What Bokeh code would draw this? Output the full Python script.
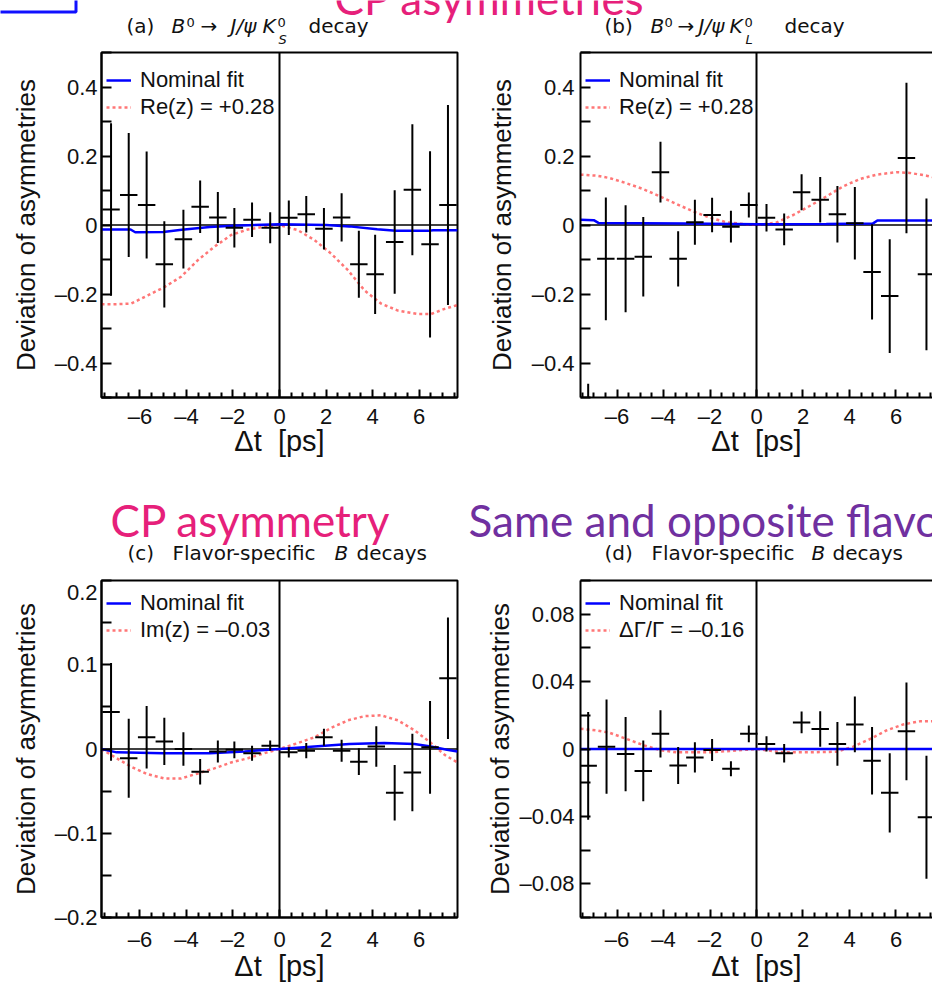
from bokeh.plotting import figure
from bokeh.models import (ColumnDataSource, Range1d, FixedTicker, CustomJSTickFormatter,
                          Span, Legend, LegendItem, LinearAxis)
from bokeh.core.properties import value
from bokeh.layouts import row, column
from bokeh.embed import file_html
from bokeh.resources import INLINE

# ---------------- data ----------------
BIN_HALF = 0.375

X_MAJOR = [-6, -4, -2, 0, 2, 4, 6]
X_MINOR = [-7.5, -7.0, -6.5, -5.5, -5.0, -4.5, -3.5, -3.0, -2.5, -1.5, -1.0, -0.5,
           0.5, 1.0, 1.5, 2.5, 3.0, 3.5, 4.5, 5.0, 5.5, 6.5, 7.0, 7.5]
Y_TICKS_AB = [-0.5, -0.4, -0.3, -0.2, -0.1, 0.0, 0.1, 0.2, 0.3, 0.4, 0.5]
Y_TICKS_C = [-0.2, -0.15, -0.1, -0.05, 0.0, 0.05, 0.1, 0.15, 0.2]
Y_TICKS_D = [-0.1, -0.08, -0.06, -0.04, -0.02, 0.0, 0.02, 0.04, 0.06, 0.08, 0.1]

X_LABEL = "\u0394t\u00a0 [ps]"
Y_LABEL = "Deviation of asymmetries"
LEGEND_NOMINAL = "Nominal fit"
LEGEND_RED = ["Re(z) = +0.28", "Re(z) = +0.28", "Im(z) = \u20130.03", "\u0394\u0393/\u0393 = \u20130.16"]

# (a) B0 -> J/psi KS
a_dt = [-7.24, -6.48, -5.71, -4.95, -4.13, -3.41, -2.65, -1.94, -1.18, -0.40,
        0.40, 1.15, 1.91, 2.67, 3.41, 4.11, 4.95, 5.71, 6.47, 7.24]
a_val = [0.045, 0.087, 0.058, -0.114, -0.041, 0.053, 0.022, -0.008, 0.015, -0.008,
         0.021, 0.031, -0.011, 0.022, -0.114, -0.143, -0.049, 0.102, -0.056, 0.058]
a_err = [0.25, 0.18, 0.155, 0.125, 0.085, 0.076, 0.074, 0.057, 0.05, 0.045,
         0.05, 0.053, 0.06, 0.07, 0.097, 0.115, 0.15, 0.19, 0.27, 0.29]
a_nom_x = [-7.65, -6.4, -6.2, -5.0, -4.2, -3.0, -2.0, 0.0, 2.0, 3.0, 4.2, 5.0, 6.4, 6.6, 7.65]
a_nom_y = [-0.013, -0.013, -0.021, -0.020, -0.014, -0.006, -0.002, 0.002, 0.0, -0.004,
           -0.012, -0.017, -0.017, -0.015, -0.015]
a_alt_x = [-7.65, -7.24, -6.38, -5.66, -4.95, -4.23, -3.51, -2.80, -2.08, -1.36, -0.65, 0.0,
           0.79, 1.51, 2.22, 2.94, 3.66, 4.37, 5.09, 5.95, 6.52, 7.10, 7.65]
a_alt_y = [-0.23, -0.23, -0.228, -0.204, -0.18, -0.15, -0.102, -0.063, -0.029, -0.013, -0.005, 0.0,
           -0.015, -0.044, -0.083, -0.131, -0.19, -0.228, -0.248, -0.258, -0.258, -0.243, -0.232]

# (b) B0 -> J/psi KL
b_dt = [-7.24, -6.48, -5.63, -4.87, -4.13, -3.37, -2.65, -1.91, -1.10, -0.33,
        0.43, 1.19, 1.94, 2.74, 3.48, 4.23, 4.97, 5.73, 6.45, 7.31]
b_val = [-0.75, -0.098, -0.098, -0.092, 0.153, -0.098, 0.008, 0.029, -0.005, 0.058,
         0.021, -0.013, 0.095, 0.073, 0.031, 0.005, -0.136, -0.206, 0.194, -0.143]
b_err = [0.29, 0.178, 0.155, 0.115, 0.088, 0.08, 0.065, 0.05, 0.046, 0.036,
         0.04, 0.046, 0.052, 0.066, 0.082, 0.105, 0.138, 0.165, 0.218, 0.22]
b_nom_x = [-7.57, -7.0, -6.8, -3.0, 0.0, 3.0, 5.0, 5.2, 7.57]
b_nom_y = [0.015, 0.014, 0.006, 0.004, 0.002, 0.003, 0.004, 0.013, 0.013]
b_alt_x = [-7.57, -6.88, -6.31, -5.59, -4.87, -4.16, -3.44, -2.72, -2.0, -1.29, -0.57, 0.0,
           0.86, 1.58, 2.29, 3.01, 3.73, 4.44, 5.16, 6.02, 6.59, 7.31, 7.57]
b_alt_y = [0.146, 0.143, 0.136, 0.121, 0.104, 0.083, 0.061, 0.039, 0.021, 0.008, 0.003, 0.0,
           0.007, 0.029, 0.055, 0.083, 0.112, 0.133, 0.146, 0.153, 0.151, 0.143, 0.139]

# (c) flavor-specific, CP asymmetry
c_dt = [-7.24, -6.48, -5.71, -4.95, -4.13, -3.41, -2.65, -1.94, -1.18, -0.40,
        0.40, 1.15, 1.91, 2.67, 3.41, 4.16, 4.95, 5.71, 6.47, 7.24]
c_val = [0.044, -0.011, 0.014, 0.009, 0.0, -0.027, -0.003, -0.001, -0.005, 0.004,
         -0.004, -0.002, 0.014, -0.002, -0.015, 0.003, -0.052, -0.028, 0.002, 0.084]
c_err = [0.058, 0.047, 0.037, 0.028, 0.02, 0.015, 0.013, 0.01, 0.009, 0.006,
         0.006, 0.009, 0.01, 0.013, 0.016, 0.024, 0.033, 0.046, 0.055, 0.072]
c_nom_x = [-7.65, -7.0, -5.0, -3.0, -1.5, 0.0, 1.5, 3.0, 4.5, 5.8, 6.5, 7.2, 7.65]
c_nom_y = [0.0, -0.004, -0.005, -0.005, -0.003, 0.0, 0.003, 0.006, 0.007, 0.006, 0.003, -0.001, -0.003]
c_alt_x = [-7.65, -7.0, -6.38, -5.66, -4.95, -4.23, -3.51, -2.80, -2.08, -1.36, -0.65, 0.0,
           0.79, 1.51, 2.22, 2.94, 3.66, 4.37, 5.09, 5.81, 6.52, 7.10, 7.65]
c_alt_y = [0.0, -0.011, -0.021, -0.030, -0.035, -0.035, -0.029, -0.023, -0.016, -0.011, -0.005, 0.0,
           0.007, 0.014, 0.025, 0.034, 0.039, 0.040, 0.034, 0.022, 0.007, -0.007, -0.016]

# (d) flavor-specific, same/opposite flavor
d_dt = [-7.24, -6.45, -5.63, -4.87, -4.13, -3.37, -2.65, -1.91, -1.10, -0.33,
        0.43, 1.19, 1.94, 2.74, 3.48, 4.23, 4.97, 5.73, 6.45, 7.31]
d_val = [-0.010, 0.0014, -0.003, -0.013, 0.009, -0.0098, -0.005, -0.0006, -0.0117, 0.009,
         0.003, -0.0025, 0.0158, 0.0119, 0.003, 0.0146, -0.007, -0.026, 0.0105, -0.0405]
d_err = [0.032, 0.028, 0.022, 0.018, 0.014, 0.011, 0.009, 0.0065, 0.0045, 0.005,
         0.0045, 0.0055, 0.0065, 0.0105, 0.013, 0.0165, 0.02, 0.0235, 0.029, 0.0365]
d_nom_x = [-7.57, 7.57]
d_nom_y = [0.0, 0.0]
d_alt_x = [-7.57, -6.88, -6.31, -5.59, -4.87, -4.16, -3.44, -2.0, -0.57, 0.0,
           1.15, 2.29, 3.44, 4.16, 4.87, 5.59, 6.31, 7.02, 7.57]
d_alt_y = [0.012, 0.011, 0.0096, 0.006, 0.0023, -0.0006, -0.002, -0.002, -0.0006, 0.0,
           -0.002, -0.002, -0.0016, 0.0014, 0.0058, 0.011, 0.0146, 0.0164, 0.0164]

# ---------------- styling ----------------
TXT = "#111111"
FONT = "Liberation Sans"
TFONT = "DejaVu Sans"
BLUE = "#0000ff"
RED = "#ff1a1a"
PINK = "#e6207a"
PURPLE = "#7030a0"


def make_fmt(step, dec):
    return CustomJSTickFormatter(args=dict(step=step, dec=dec), code="""
        const r = tick / step;
        if (Math.abs(r - Math.round(r)) > 1e-6) { return ""; }
        if (Math.abs(tick) < 1e-9) { return "0"; }
        const s = Math.abs(tick).toFixed(dec);
        return (tick < 0 ? "\u2013" : "") + s;
    """)


def make_panel(geom, xr, yr, yticks, ystep, ydec, ylab_standoff, ymaj_standoff, open_right,
               xmaj_standoff, xlab_standoff, xs, ys, es, nx, ny, ax_, ay_, red_label):
    W, H, L, R, T, B = geom
    p = figure(width=W, height=H, min_border_left=L, min_border_right=R,
               min_border_top=T, min_border_bottom=B,
               x_range=Range1d(*xr), y_range=Range1d(*yr),
               output_backend="svg", toolbar_location=None,
               x_axis_label=X_LABEL, y_axis_label=Y_LABEL)
    p.grid.visible = False
    p.background_fill_color = "white"
    p.border_fill_color = "white"

    xa = p.below[0]
    ya = p.left[0]
    xa.ticker = FixedTicker(ticks=X_MAJOR, minor_ticks=X_MINOR)
    xa.formatter = make_fmt(2, 0)
    ya.ticker = FixedTicker(ticks=yticks, minor_ticks=[])
    ya.formatter = make_fmt(ystep, ydec)
    for ax in (xa, ya):
        ax.axis_line_color = "black"
        ax.axis_line_width = 2
        ax.major_tick_line_color = "black"
        ax.major_tick_line_width = 2
        ax.minor_tick_line_color = "black"
        ax.minor_tick_line_width = 2
        ax.major_tick_out = 0
        ax.minor_tick_out = 0
        ax.major_label_text_font = FONT
        ax.major_label_text_font_size = "22px"
        ax.major_label_text_color = TXT
        ax.axis_label_text_font = FONT
        ax.axis_label_text_font_style = "normal"
        ax.axis_label_text_color = TXT
    xa.major_tick_in = 8
    xa.minor_tick_in = 5
    ya.major_tick_in = 10
    ya.minor_tick_in = 0
    xa.axis_label_text_font_size = "29px"
    ya.axis_label_text_font_size = "26px"
    xa.major_label_standoff = xmaj_standoff
    xa.axis_label_standoff = xlab_standoff
    ya.major_label_standoff = ymaj_standoff
    ya.axis_label_standoff = ylab_standoff

    if open_right:
        p.outline_line_color = None
        top = LinearAxis(ticker=FixedTicker(ticks=[], minor_ticks=[]),
                         major_label_text_font_size="0px", major_label_standoff=0,
                         axis_line_width=2, axis_line_color="black",
                         major_tick_in=0, major_tick_out=0, minor_tick_in=0, minor_tick_out=0)
        p.add_layout(top, "above")
    else:
        p.outline_line_color = "black"
        p.outline_line_width = 2
        p.outline_line_alpha = 1.0

    p.add_layout(Span(location=0, dimension="height", line_color="black", line_width=2, level="underlay"))
    p.add_layout(Span(location=0, dimension="width", line_color="black", line_width=1.5, level="underlay"))

    red_r = p.line(ax_, ay_, line_color=RED, line_alpha=0.6, line_width=2.5, line_dash="3 3")
    blue_r = p.line(nx, ny, line_color=BLUE, line_width=2.5)

    src = ColumnDataSource(dict(
        x=xs, y=ys,
        lo=[v - e for v, e in zip(ys, es)], hi=[v + e for v, e in zip(ys, es)],
        xl=[v - BIN_HALF for v in xs], xh=[v + BIN_HALF for v in xs]))
    p.segment(x0="x", y0="lo", x1="x", y1="hi", source=src, line_color="black", line_width=2)
    p.segment(x0="xl", y0="y", x1="xh", y1="y", source=src, line_color="black", line_width=2)

    frame_h = H - T - B
    leg = Legend(items=[LegendItem(label=LEGEND_NOMINAL, renderers=[blue_r]),
                        LegendItem(label=red_label, renderers=[red_r])],
                 location=(5, frame_h - 68), border_line_color=None, background_fill_alpha=0,
                 padding=0, margin=0, spacing=1, glyph_width=25, glyph_height=26,
                 label_height=26, label_standoff=9, label_text_font=FONT,
                 label_text_font_size="22px", label_text_color=TXT)
    p.add_layout(leg)
    return p


def make_strip(w, h):
    s = figure(width=w, height=h, x_range=Range1d(0, w), y_range=Range1d(h, 0),
               min_border=0, min_border_left=0, min_border_right=0, min_border_top=0,
               min_border_bottom=0, x_axis_location=None, y_axis_location=None,
               output_backend="svg", toolbar_location=None)
    s.grid.visible = False
    s.outline_line_color = None
    s.background_fill_color = "white"
    s.border_fill_color = "white"
    return s


BASE_SHIFT = 0.3  # text glyph baseline correction (fraction of font size)


def txt(s, x, y, text, size, style="normal", color=TXT, font=TFONT):
    s.text(x=[x], y=[y - BASE_SHIFT * size], text=[text], text_font=value(font),
           text_font_size=value(f"{size}px"), text_font_style=value(style),
           text_color=value(color), text_align=value("left"), text_baseline=value("alphabetic"))


# ---- geometry: (width, height, left, right, top, bottom) ----
GA = (466, 441, 101, 9, 1, 95)
GB = (466, 441, 114, 0, 1, 95)
GC = (466, 405, 101, 9, 1, 62)
GD = (466, 405, 114, 0, 1, 62)

pa = make_panel(GA, (-7.65, 7.65), (-0.5, 0.5), Y_TICKS_AB, 0.2, 1, 11, 4, False, 6, -7,
                a_dt, a_val, a_err, a_nom_x, a_nom_y, a_alt_x, a_alt_y, LEGEND_RED[0])
pb = make_panel(GB, (-7.57, 7.57), (-0.5, 0.5), Y_TICKS_AB, 0.2, 1, 12, 6, True, 6, -7,
                b_dt, b_val, b_err, b_nom_x, b_nom_y, b_alt_x, b_alt_y, LEGEND_RED[1])
pc = make_panel(GC, (-7.65, 7.65), (-0.2, 0.2), Y_TICKS_C, 0.1, 1, 11, 4, False, 9, -5,
                c_dt, c_val, c_err, c_nom_x, c_nom_y, c_alt_x, c_alt_y, LEGEND_RED[2])
pd = make_panel(GD, (-7.57, 7.57), (-0.1, 0.1), Y_TICKS_D, 0.04, 2, 1, 6, True, 9, -5,
                d_dt, d_val, d_err, d_nom_x, d_nom_y, d_alt_x, d_alt_y, LEGEND_RED[3])

# ---- title strips ----
sa = make_strip(466, 51)
sb = make_strip(466, 51)
sc = make_strip(466, 87)
sd = make_strip(466, 87)

TS = 20
SS = 13
BIG = 44
# slide texts
txt(sa, 334, 11, "CP asymmetries", BIG, color=PINK, font="Lato")
txt(sb, 334 - 466, 11, "CP asymmetries", BIG, color=PINK, font="Lato")
sa.quad(left=[-20], right=[75.5], top=[-40], bottom=[11.5], fill_color=None,
        line_color="#1010ff", line_width=3)
txt(sc, 110, 41, "CP asymmetry", BIG, color=PINK, font="Lato")
txt(sd, 2, 41, "Same and opposite flavor", BIG, color=PURPLE, font="Lato")

# panel titles
txt(sa, 126, 31, "(a)", TS)
txt(sa, 171, 31, "B", TS, "italic")
txt(sa, 186, 26, "0", SS)
txt(sa, 200, 31, "\u2192", TS)
txt(sa, 230, 31, "J/\u03c8", TS, "italic")
txt(sa, 262, 31, "K", TS, "italic")
txt(sa, 277, 26, "0", SS)
txt(sa, 278, 43, "S", SS, "italic")
txt(sa, 308, 31, "decay", TS)

txt(sb, 138, 31, "(b)", TS)
txt(sb, 184, 31, "B", TS, "italic")
txt(sb, 198, 26, "0", SS)
txt(sb, 211, 31, "\u2192", TS)
txt(sb, 232, 31, "J/\u03c8", TS, "italic")
txt(sb, 263, 31, "K", TS, "italic")
txt(sb, 278, 26, "0", SS)
txt(sb, 279, 43, "L", SS, "italic")
txt(sb, 318, 31, "decay", TS)

txt(sc, 127, 66, "(c)", TS)
txt(sc, 172, 66, "Flavor-specific", TS)
txt(sc, 334, 66, "B", TS, "italic")
txt(sc, 356, 66, "decays", TS)

txt(sd, 138, 66, "(d)", TS)
txt(sd, 185, 66, "Flavor-specific", TS)
txt(sd, 345, 66, "B", TS, "italic")
txt(sd, 366, 66, "decays", TS)

layout = column(row(sa, sb), row(pa, pb), row(sc, sd), row(pc, pd))
with open("out.html", "w") as f:
    f.write(file_html(layout, INLINE, title="Deviation of asymmetries"))
